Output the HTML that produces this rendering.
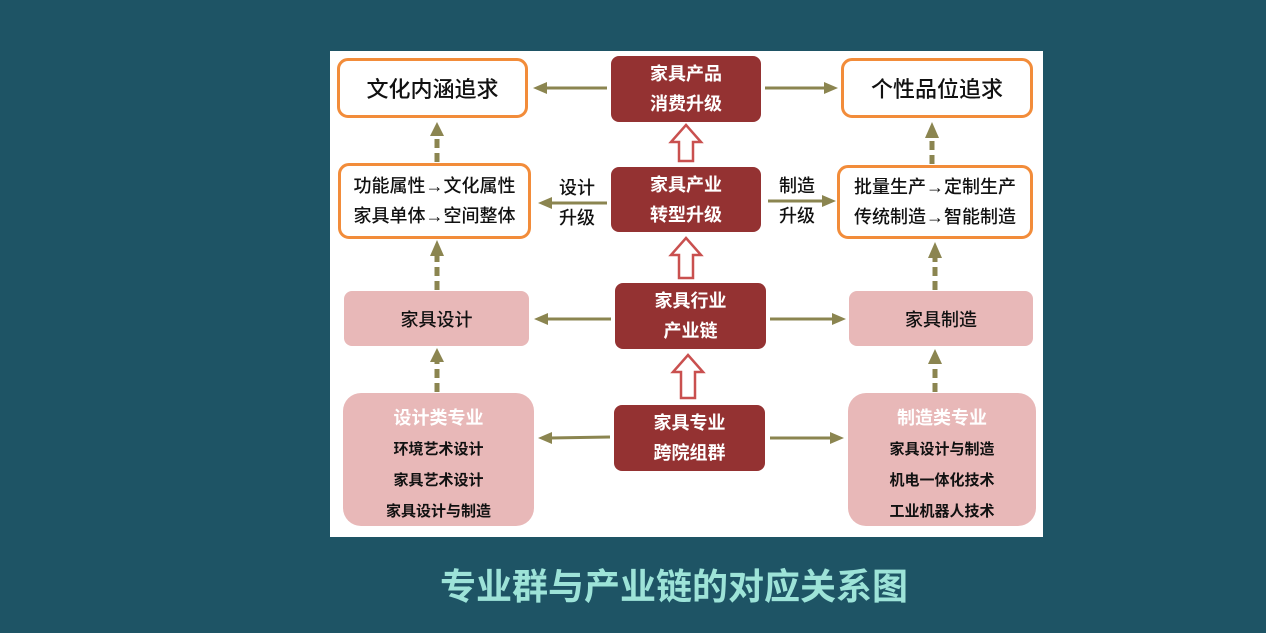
<!DOCTYPE html>
<html><head><meta charset="utf-8"><style>
body{margin:0;width:1266px;height:633px;background:#1e5465;position:relative;overflow:hidden;font-family:"Liberation Sans","Noto Sans CJK SC",sans-serif}
.panel{position:absolute;left:330px;top:51px;width:713px;height:486px;background:#fff}
.b{position:absolute;box-sizing:border-box;display:flex;flex-direction:column;align-items:center;justify-content:center;text-align:center;color:#111}
.o{border:3px solid #f28c3a;border-radius:11px;background:#fff;font-weight:500}
.r{background:#943232;border-radius:8px;color:#fff;font-weight:bold;font-size:18px;line-height:30px}
.p{background:#e8b8b8;border-radius:8px;font-size:18px;font-weight:500}
.pl{background:#e8b8b8;border-radius:18px;font-size:15px;line-height:31px;font-weight:bold;padding-top:10px}
.lbl{position:absolute;font-size:18px;line-height:30px;color:#111;text-align:center;font-weight:500}
svg{position:absolute;left:0;top:0}
.title{position:absolute;left:440px;top:558px;font-size:36px;font-weight:bold;color:#9de3d8;white-space:nowrap}
</style></head><body>
<div class="panel"></div>
<div class="b o" style="left:337px;top:58px;width:191px;height:60px;font-size:22px">文化内涵追求</div>
<div class="b r" style="left:611px;top:56px;width:150px;height:66px">家具产品<br>消费升级</div>
<div class="b o" style="left:841px;top:58px;width:192px;height:60px;font-size:22px">个性品位追求</div>

<div class="b o" style="left:338px;top:163px;width:193px;height:76px;font-size:18px;line-height:30px">功能属性→文化属性<br>家具单体→空间整体</div>
<div class="b r" style="left:611px;top:167px;width:150px;height:65px">家具产业<br>转型升级</div>
<div class="b o" style="left:837px;top:165px;width:196px;height:74px;font-size:18px;line-height:30px">批量生产→定制生产<br>传统制造→智能制造</div>
<div class="lbl" style="left:552px;top:173px;width:50px">设计<br>升级</div>
<div class="lbl" style="left:772px;top:171px;width:50px">制造<br>升级</div>

<div class="b p" style="left:344px;top:291px;width:185px;height:55px">家具设计</div>
<div class="b r" style="left:615px;top:283px;width:151px;height:66px">家具行业<br>产业链</div>
<div class="b p" style="left:849px;top:291px;width:184px;height:55px">家具制造</div>

<div class="b pl" style="left:343px;top:393px;width:191px;height:133px"><span style="color:#fff;font-size:18px">设计类专业</span>环境艺术设计<br>家具艺术设计<br>家具设计与制造</div>
<div class="b r" style="left:614px;top:405px;width:151px;height:66px">家具专业<br>跨院组群</div>
<div class="b pl" style="left:848px;top:393px;width:188px;height:133px"><span style="color:#fff;font-size:18px">制造类专业</span>家具设计与制造<br>机电一体化技术<br>工业机器人技术</div>

<svg width="1266" height="633">
<g stroke="#8b8550" stroke-width="3" fill="#8b8550">
<line x1="607" y1="88" x2="545" y2="88"/><polygon points="533,88 547,82 547,94" stroke="none"/>
<line x1="765" y1="88" x2="826" y2="88"/><polygon points="838,88 824,82 824,94" stroke="none"/>
<line x1="607" y1="203" x2="550" y2="203"/><polygon points="538,203 552,197 552,209" stroke="none"/>
<line x1="768" y1="201" x2="824" y2="201"/><polygon points="836,201 822,195 822,207" stroke="none"/>
<line x1="611" y1="319" x2="546" y2="319"/><polygon points="534,319 548,313 548,325" stroke="none"/>
<line x1="770" y1="319" x2="834" y2="319"/><polygon points="846,319 832,313 832,325" stroke="none"/>
<line x1="610" y1="437" x2="550" y2="438"/><polygon points="538,438 552,432 552,444" stroke="none"/>
<line x1="770" y1="438" x2="832" y2="438"/><polygon points="844,438 830,432 830,444" stroke="none"/>
</g>
<g stroke="#8b8550" stroke-width="5" stroke-dasharray="9,5" fill="#8b8550">
<line x1="437" y1="162" x2="437" y2="136"/><polygon points="437,122 430,136 444,136" stroke="none"/>
<line x1="437" y1="290" x2="437" y2="256"/><polygon points="437,240 430,256 444,256" stroke="none"/>
<line x1="437" y1="392" x2="437" y2="362"/><polygon points="437,348 430,362 444,362" stroke="none"/>
<line x1="932" y1="164" x2="932" y2="138"/><polygon points="932,122 925,138 939,138" stroke="none"/>
<line x1="935" y1="290" x2="935" y2="258"/><polygon points="935,242 928,258 942,258" stroke="none"/>
<line x1="935" y1="392" x2="935" y2="364"/><polygon points="935,349 928,364 942,364" stroke="none"/>
</g>
<g stroke="#c9504f" stroke-width="2.5" fill="#fff">
<polygon points="686,125 701,142 693,142 693,161 679,161 679,142 671,142"/>
<polygon points="686,238 701,255 693,255 693,278 679,278 679,255 671,255"/>
<polygon points="688,355 703,372 695,372 695,398 681,398 681,372 673,372"/>
</g>
</svg>
<div class="title">专业群与产业链的对应关系图</div>
</body></html>
